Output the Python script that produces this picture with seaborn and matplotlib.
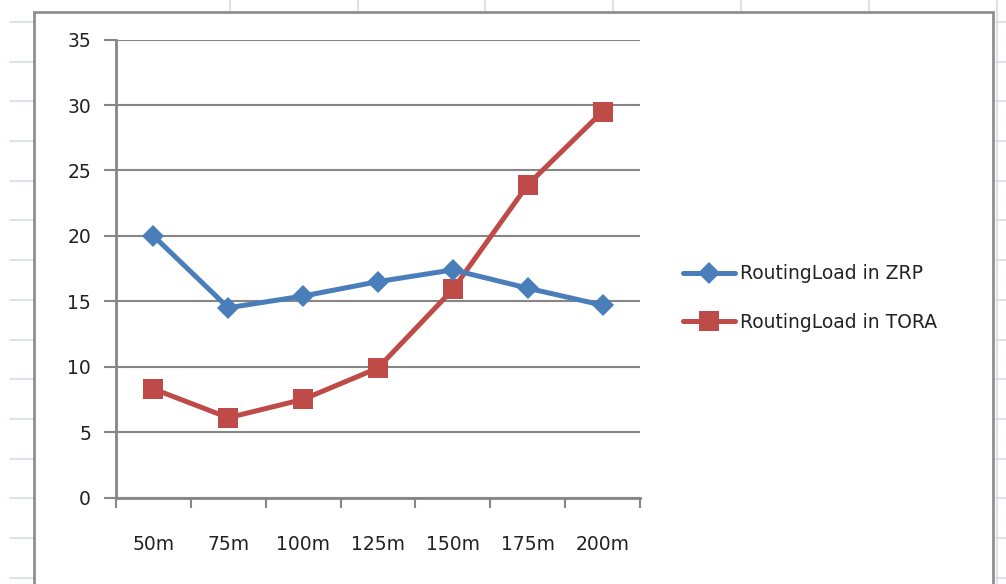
import matplotlib
matplotlib.use("Agg")
import matplotlib.pyplot as plt
from matplotlib.lines import Line2D
from matplotlib.patches import Rectangle
import numpy as np
import pandas as pd
import seaborn as sns

# Routing load per transmission range
ranges = ["50m", "75m", "100m", "125m", "150m", "175m", "200m"]
zrp_load = [20.0, 14.5, 15.4, 16.5, 17.4, 16.0, 14.7]
tora_load = [8.3, 6.1, 7.5, 9.9, 15.9, 23.9, 29.5]
series_names = ["RoutingLoad in ZRP", "RoutingLoad in TORA"]
y_ticks = [0, 5, 10, 15, 20, 25, 30, 35]

sns.set_theme(style="white")
plt.rcParams["font.family"] = ["DejaVu Sans"]

W, H = 1006, 584
fig = plt.figure(figsize=(W / 100, H / 100), dpi=100)
fig.patch.set_facecolor("white")

def fx(px):
    return px / W

def fy(py):
    return 1 - py / H

# worksheet cell grid behind the chart object
cell_col = "#d6dce8"
for yy in np.arange(22, H, 39.7):
    fig.add_artist(Line2D([fx(10), fx(34)], [fy(yy), fy(yy)], color=cell_col, lw=1.2, zorder=-3))
    fig.add_artist(Line2D([fx(996), fx(1006)], [fy(yy), fy(yy)], color=cell_col, lw=1.2, zorder=-3))
for xx in [230, 357.5, 485, 613, 741, 869]:
    fig.add_artist(Line2D([fx(xx), fx(xx)], [fy(0), fy(12)], color=cell_col, lw=1.2, zorder=-3))
fig.add_artist(Line2D([fx(996.5), fx(996.5)], [fy(0), fy(H)], color=cell_col, lw=1.2, zorder=-3))

# chart object frame
fig.add_artist(Rectangle((fx(34), fy(H + 10)), fx(993 - 34), fy(12) - fy(H + 10),
                         transform=fig.transFigure, facecolor="white",
                         edgecolor="#8f8f8f", lw=2.0, zorder=-2))

df = pd.DataFrame({
    "range": ranges * 2,
    "load": zrp_load + tora_load,
    "series": [series_names[0]] * len(ranges) + [series_names[1]] * len(ranges),
})

ax = fig.add_axes([fx(116), fy(497.5), fx(640 - 116), fy(39.6) - fy(497.5)])
ax.set_facecolor("none")

palette = {series_names[0]: "#4a7ebb", series_names[1]: "#be4b48"}
sns.lineplot(data=df[df["series"] == series_names[0]], x="range", y="load",
             color=palette[series_names[0]], marker="D", markersize=11.5,
             markeredgewidth=0, linewidth=3.6, ax=ax, label=series_names[0],
             zorder=4, sort=False)
sns.lineplot(data=df[df["series"] == series_names[1]], x="range", y="load",
             color=palette[series_names[1]], marker="s", markersize=15,
             markeredgewidth=0, linewidth=3.6, ax=ax, label=series_names[1],
             zorder=3, sort=False)

grid_col = "#868686"
ax.set_ylim(0, 35)
ax.set_yticks(y_ticks)
ax.set_yticklabels([str(t) for t in y_ticks])
ax.set_xlim(-0.5, len(ranges) - 0.5)
ax.set_xticks(np.arange(-0.5, len(ranges), 1.0))
ax.set_xticklabels([])
ax.set_xticks(np.arange(len(ranges)), minor=True)
ax.set_xticklabels(ranges, minor=True)
ax.yaxis.grid(True, color=grid_col, lw=1.5)
ax.set_axisbelow(True)
ax.set_xlabel("")
ax.set_ylabel("")

for s in ["top", "right"]:
    ax.spines[s].set_visible(False)
for s in ["left", "bottom"]:
    ax.spines[s].set_color(grid_col)
    ax.spines[s].set_linewidth(2.0)

fs = 13.5
ax.tick_params(axis="y", which="major", direction="out", length=9, width=1.5,
               color=grid_col, left=True, pad=9, labelsize=fs, labelcolor="#222222")
ax.tick_params(axis="x", which="major", direction="out", length=7, width=1.5,
               color=grid_col, bottom=True)
ax.tick_params(axis="x", which="minor", length=0, pad=27, labelsize=fs,
               labelcolor="#222222")

leg = ax.legend(loc="center left", bbox_to_anchor=(fx(666), fy(298)),
                bbox_transform=fig.transFigure, frameon=False, fontsize=fs,
                handlelength=2.8, handletextpad=0.25, labelspacing=1.55)
for t in leg.get_texts():
    t.set_color("#222222")

fig.savefig("out.png", dpi=100)
